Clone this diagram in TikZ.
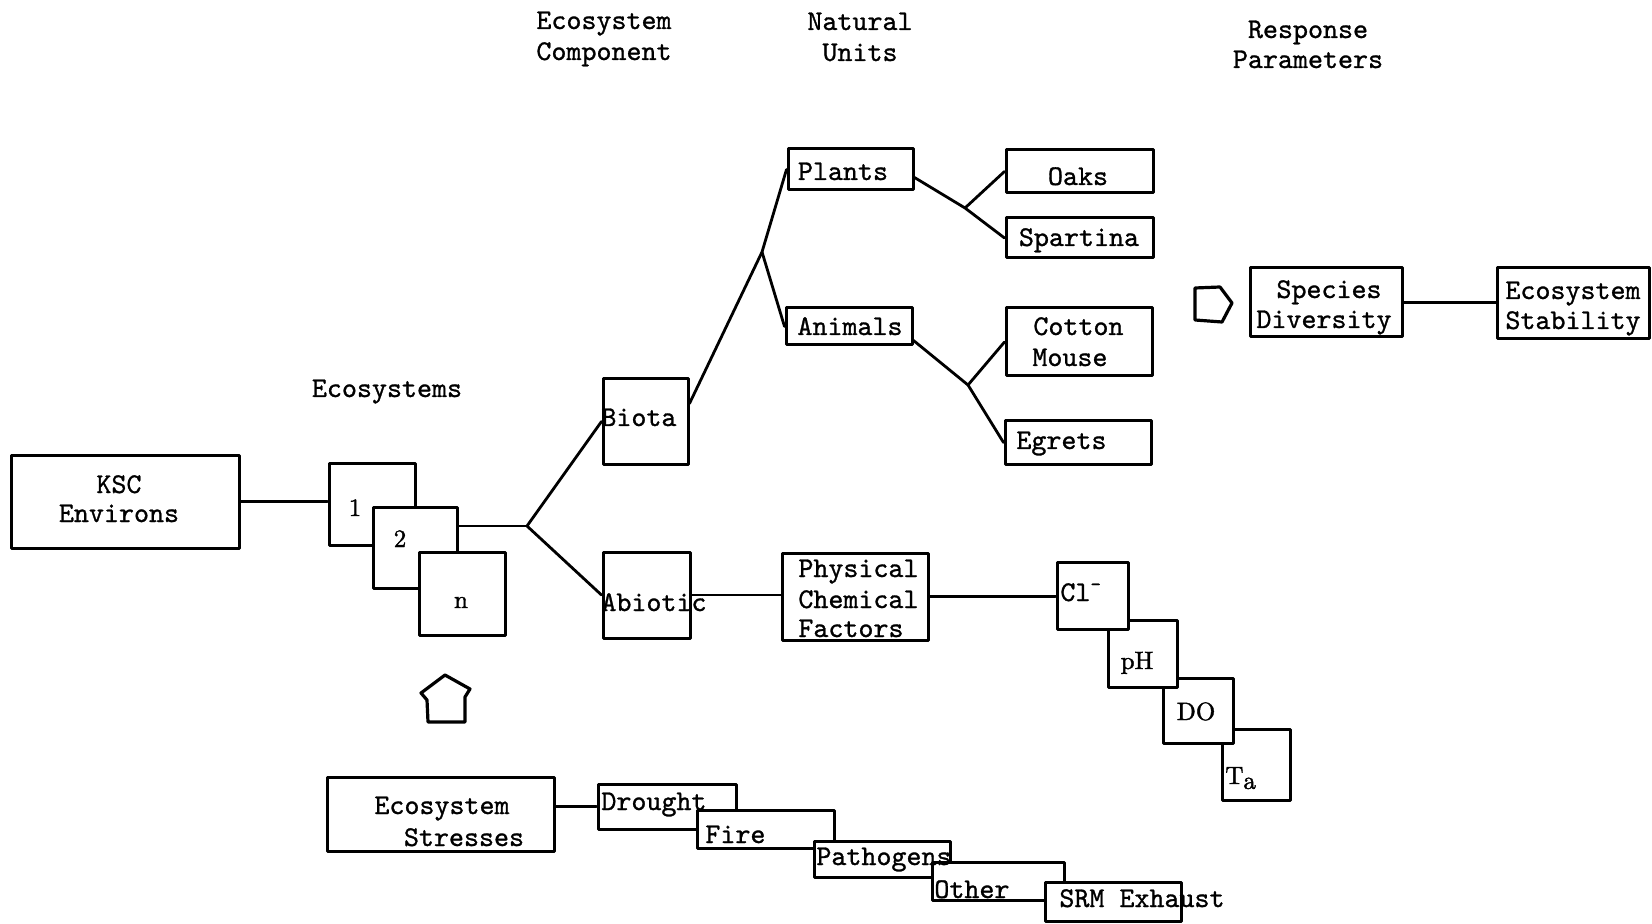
\documentclass[tikz,border=0pt]{standalone}
\usepackage{fontspec}
\newfontfamily\tw{lmmono10-regular.otf}[FakeBold=1]
\newfontfamily\rmb{lmroman10-regular.otf}[FakeBold=1.5]
\usetikzlibrary{fit}
\tikzset{
  bx/.style={draw, line width=1.5pt, fill=white, inner sep=0pt, line join=round},
  ln/.style={line width=1.4pt, line cap=round, line join=round},
  tx/.style={inner sep=0pt, anchor=base, font=\tw\fontsize{14.3}{15}\selectfont},
  txw/.style={tx, anchor=base west},
  rx/.style={inner sep=0pt, anchor=base, font=\rmb\fontsize{12.5}{13}\selectfont},
  blk/.style={line width=1.6pt, line join=round}
}
\begin{document}
\begin{tikzpicture}[x=0.5pt, y=-0.5pt]
\fill[white] (0,0) rectangle (1652,924);
\useasboundingbox (0,0) rectangle (1652,924);

% headers
\node[tx] (h1a) at (604,29) {Ecosystem};
\node[tx] (h1b) at (604,60) {Component};
\node[tx] (h2a) at (860,30) {Natural};
\node[tx] (h2b) at (860,61) {Units};
\node[tx] (h3a) at (1308,38) {Response};
\node[tx] (h3b) at (1308,68) {Parameters};
\node[tx] (ecos) at (387,397) {Ecosystems};

% boxes
\node[bx, fit={(11,455) (239,548)}] (ksc) {};
\node[bx, fit={(329,463) (415,545)}] (b1) {};
\node[bx, fit={(373,507) (457,588)}] (b2) {};
\node[bx, fit={(419,552) (505,635)}] (bn) {};
\node[bx, fit={(603,379) (688,464)}] (biota) {};
\node[bx, fit={(603,552) (690,638)}] (abiotic) {};
\node[bx, fit={(782,553) (928,640)}] (pcf) {};
\node[bx, fit={(1222,729) (1290,800)}] (ta) {};
\node[bx, fit={(1163,678) (1233,743)}] (do) {};
\node[bx, fit={(1108,620) (1177,687)}] (ph) {};
\node[bx, fit={(1057,562) (1128,629)}] (cl) {};
\node[bx, fit={(788,149) (913,190)}] (plants) {};
\node[bx, fit={(786,308) (912,345)}] (animals) {};
\node[bx, fit={(1006,150) (1153,193)}] (oaks) {};
\node[bx, fit={(1006,218) (1153,258)}] (spartina) {};
\node[bx, fit={(1006,308) (1152,376)}] (cm) {};
\node[bx, fit={(1005,421) (1151,464)}] (egrets) {};
\node[bx, fit={(1250,268) (1402,337)}] (species) {};
\node[bx, fit={(1497,268) (1649,339)}] (stab) {};
\node[bx, fit={(327,777) (554,851)}] (stress) {};
\node[bx, fit={(598,784) (736,829)}] (drought) {};
\node[bx, fit={(697,810) (834,848)}] (fire) {};
\node[bx, fit={(814,841) (950,877)}] (path) {};
\node[bx, fit={(932,862) (1064,900)}] (other) {};
\node[bx, fit={(1045,882) (1181,921)}] (srm) {};

% junctions
\coordinate (J1) at (527,526);
\coordinate (J2) at (762,252);
\coordinate (J3) at (965,208);
\coordinate (J4) at (968,385);

% connectors
\draw[ln] (ksc.east) -- (ksc.east -| b1.west);
\draw[ln] (J1 -| b2.east) -- (J1);
\draw[ln] (J1) -- (biota.west);
\draw[ln] (J1) -- (abiotic.west);
\draw[ln] (abiotic.east) -- (abiotic.east -| pcf.west);
\draw[ln] (pcf.east) -- (pcf.east -| cl.west);
\draw[ln] ([yshift=9pt]biota.east) -- (J2) -- (plants.west);
\draw[ln] (J2) -- (animals.west);
\draw[ln] ([yshift=-4pt]plants.east) -- (J3) -- (spartina.west);
\draw[ln] (J3) -- (oaks.west);
\draw[ln] ([yshift=-7pt]animals.east) -- (J4) -- (egrets.west);
\draw[ln] (J4) -- (cm.west);
\draw[ln] (species.east) -- (species.east -| stab.west);
\draw[ln] (drought.west -| stress.east) -- (drought.west);

% block arrows
\draw[blk] (1195,288) -- (1220,287) -- (1232,303) -- (1222,322) -- (1195,320) -- cycle;
\draw[blk] (428,722) -- (427,700) -- (421,693) -- (445,675) -- (470,689) -- (465,697) -- (465,722) -- cycle;

% texts
\node[tx] (t-ksc1) at (119,493) {KSC};
\node[tx] (t-ksc2) at (119,522) {Environs};
\node[rx] (t-1) at (355,516) {1};
\node[rx] (t-2) at (400,547) {2};
\node[rx] (t-n) at (461,608) {n};
\node[txw] (t-biota) at (601,426) {Biota};
\node[txw] (t-abiotic) at (601,611) {Abiotic};
\node[txw] (t-pcf1) at (798,577) {Physical};
\node[txw] (t-pcf2) at (798,608) {Chemical};
\node[txw] (t-pcf3) at (798,637) {Factors};
\node[txw] (t-cl) at (1060,601) {Cl\textsuperscript{-}};
\node[rx] (t-ph) at (1137,669) {pH};
\node[rx] (t-do) at (1196,720) {DO};
\node[rx, anchor=base west] (t-ta) at (1225,784) {T\raisebox{-0.45ex}{a}};
\node[tx] (t-plants) at (843,180) {Plants};
\node[tx] (t-animals) at (850,335) {Animals};
\node[tx] (t-oaks) at (1078,185) {Oaks};
\node[tx] (t-spartina) at (1079,246) {Spartina};
\node[txw] (t-cm1) at (1033,335) {Cotton};
\node[txw] (t-cm2) at (1032,366) {Mouse};
\node[txw] (t-egrets) at (1016,449) {Egrets};
\node[tx] (t-sp1) at (1329,298) {Species};
\node[tx] (t-sp2) at (1324,328) {Diversity};
\node[tx] (t-st1) at (1573,299) {Ecosystem};
\node[tx] (t-st2) at (1573,329) {Stability};
\node[tx] (t-es1) at (442,814) {Ecosystem};
\node[tx] (t-es2) at (464,846) {Stresses};
\node[txw] (t-drought) at (601,810) {Drought};
\node[txw] (t-fire) at (705,843) {Fire};
\node[txw] (t-path) at (816,865) {Pathogens};
\node[txw] (t-other) at (934,898) {Other};
\node[txw] (t-srm) at (1059,907) {SRM Exhaust};
\end{tikzpicture}
\end{document}
